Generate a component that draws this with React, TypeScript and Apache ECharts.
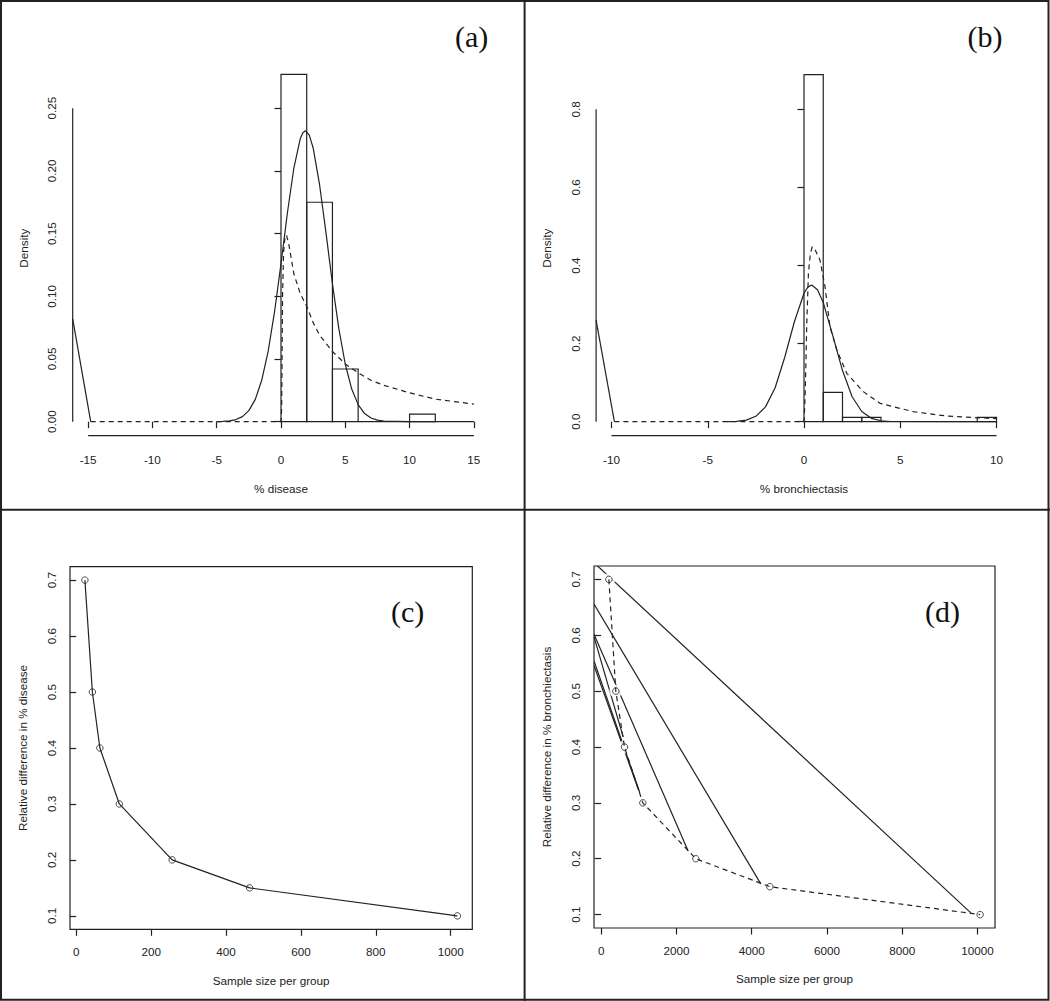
import React, { useEffect, useRef } from "react";
import * as echarts from "echarts";

// ---------- Panel (a): % disease ----------
const binEdgesA = [0, 2, 4, 6, 8, 10, 12];
const densA = [0.277, 0.175, 0.042, 0, 0, 0.006];
const xTicksA = [-15, -10, -5, 0, 5, 10, 15];
const yTicksA = [0, 0.05, 0.1, 0.15, 0.2, 0.25];
const normXA = [-5, -4.5, -4, -3.5, -3, -2.5, -2, -1.5, -1, -0.5, 0, 0.5, 1, 1.5, 1.7, 1.9, 2.2, 2.5, 3, 3.5, 4, 4.5, 5, 5.5, 6, 6.5, 7, 7.5, 8, 10, 15];
const normYA = [0, 0.0002, 0.0006, 0.0017, 0.004, 0.0088, 0.0178, 0.033, 0.056, 0.0877, 0.126, 0.1666, 0.2023, 0.2258, 0.2304, 0.232, 0.2285, 0.2183, 0.189, 0.1506, 0.11, 0.074, 0.0458, 0.026, 0.0136, 0.0065, 0.0029, 0.0012, 0.0004, 0, 0];
const lnXA = [-14.8, 0, 0.05, 0.08, 0.12, 0.2, 0.3, 0.42, 0.6, 1, 1.5, 2, 2.5, 3, 4, 5, 6, 7, 8, 10, 12, 15];
const lnYA = [0, 0, 0.01, 0.045, 0.1, 0.135, 0.146, 0.149, 0.142, 0.118, 0.102, 0.092, 0.079, 0.069, 0.056, 0.046, 0.039, 0.033, 0.029, 0.023, 0.018, 0.014];
const edgeXA = [-16.2, -14.8];
const edgeYA = [0.082, 0];

// ---------- Panel (b): % bronchiectasis ----------
const binEdgesB = [0, 1, 2, 3, 4, 5, 6, 7, 8, 9, 10];
const densB = [0.889, 0.075, 0.011, 0.011, 0, 0, 0, 0, 0, 0.011];
const xTicksB = [-10, -5, 0, 5, 10];
const yTicksB = [0, 0.2, 0.4, 0.6, 0.8];
const normXB = [-4, -3.5, -3, -2.5, -2, -1.5, -1, -0.5, 0, 0.2, 0.4, 0.7, 1, 1.5, 2, 2.5, 3, 3.5, 4, 4.5, 10];
const normYB = [0, 0.001, 0.004, 0.0138, 0.038, 0.087, 0.165, 0.256, 0.329, 0.3447, 0.35, 0.338, 0.305, 0.22, 0.131, 0.064, 0.026, 0.0087, 0.0024, 0.0005, 0];
const lnXB = [-9.85, 0, 0.03, 0.06, 0.1, 0.14, 0.23, 0.33, 0.43, 0.6, 0.83, 1.09, 1.35, 1.7, 2.22, 3.08, 3.95, 5.68, 7.4, 10];
const lnYB = [0, 0, 0.03, 0.07, 0.15, 0.243, 0.38, 0.43, 0.448, 0.438, 0.414, 0.346, 0.243, 0.184, 0.124, 0.077, 0.047, 0.0256, 0.0146, 0.0077];
const edgeXB = [-10.8, -9.85];
const edgeYB = [0.26, 0];

// ---------- Panel (c) ----------
const sampC = [23, 43, 63, 115, 256, 463, 1018];
const relC = [0.7, 0.5, 0.4, 0.3, 0.2, 0.15, 0.1];
const xTicksC = [0, 200, 400, 600, 800, 1000];
const yTicksCD = [0.1, 0.2, 0.3, 0.4, 0.5, 0.6, 0.7];

// ---------- Panel (d) ----------
const sampD = [205, 390, 621, 1108, 2516, 4483, 10072];
const relD = [0.7, 0.5, 0.4, 0.3, 0.2, 0.15, 0.1];
const xTicksD = [0, 2000, 4000, 6000, 8000, 10000];
// solid segments: [x0, y0, x1, y1]
const segD = [
  [-122, 0.7257, 9824, 0.103],
  [-189.7, 0.656, 4243, 0.155],
  [-189.7, 0.602, 2312, 0.214],
  [-189.7, 0.597, 585, 0.418],
  [-189.7, 0.554, 1028, 0.318],
  [-189.7, 0.546, 1000, 0.322],
];

// axis extents (R's 4% extension)
const rangeA = { x: [-16.2, 16.2], y: [-0.0111, 0.2879] };
const rangeB = { x: [-10.8, 10.8], y: [-0.0356, 0.9245] };
const rangeC = { x: [-16.8, 1057.8], y: [0.076, 0.724] };
const rangeD = { x: [-189.7, 10466.7], y: [0.076, 0.724] };

const INK = "#222";
const FONT = "'Liberation Sans', Arial, sans-serif";
const FS = 11.7;
const LW = 1.2;

const zip = (xs: number[], ys: number[]) => xs.map((x, i) => [x, ys[i]]);

function xAxisR(gridIndex: number, range: any, ticks: number[], name: string, nameGap: number, margin: number) {
  return {
    type: "value",
    gridIndex,
    min: range.x[0],
    max: range.x[1],
    position: "bottom",
    axisLine: { show: false },
    splitLine: { show: false },
    axisTick: { show: true, customValues: ticks, length: 6.5, lineStyle: { color: INK, width: LW } },
    axisLabel: { customValues: ticks, margin, color: INK, fontFamily: FONT, fontSize: FS, formatter: (v: number) => String(v) },
    name,
    nameLocation: "middle",
    nameGap,
    nameTextStyle: { color: INK, fontFamily: FONT, fontSize: FS },
  };
}

function yAxisR(gridIndex: number, range: any, ticks: number[], digits: number, name: string, nameGap: number, margin: number) {
  return {
    type: "value",
    gridIndex,
    min: range.y[0],
    max: range.y[1],
    position: "left",
    axisLine: { show: false },
    splitLine: { show: false },
    axisTick: { show: true, customValues: ticks, length: 6.5, lineStyle: { color: INK, width: LW } },
    axisLabel: {
      customValues: ticks,
      rotate: 90,
      margin,
      color: INK,
      fontFamily: FONT,
      fontSize: FS,
      formatter: (v: number) => v.toFixed(digits),
    },
    name,
    nameLocation: "middle",
    nameGap,
    nameTextStyle: { color: INK, fontFamily: FONT, fontSize: FS },
  };
}

const histRender = (params: any, api: any) => {
  const a = api.coord([api.value(0), 0]);
  const b = api.coord([api.value(1), api.value(2)]);
  return {
    type: "rect",
    shape: { x: a[0], y: b[1], width: b[0] - a[0], height: a[1] - b[1] },
    style: { fill: "none", stroke: INK, lineWidth: LW },
  };
};

const segRender = (params: any, api: any) => {
  const a = api.coord([api.value(0), api.value(1)]);
  const b = api.coord([api.value(2), api.value(3)]);
  return {
    type: "line",
    shape: { x1: a[0], y1: a[1], x2: b[0], y2: b[1] },
    style: { stroke: INK, lineWidth: LW },
  };
};

function lineSeries(idx: number, data: any[], dashed = false, clip = true) {
  return {
    type: "line",
    xAxisIndex: idx,
    yAxisIndex: idx,
    data,
    symbol: "none",
    silent: true,
    clip,
    lineStyle: { color: INK, width: LW, type: dashed ? [5, 4] : "solid", join: "round" },
  };
}

function histPanelSeries(idx: number, edges: number[], dens: number[], range: any, xt: number[], yt: number[],
  edgeX: number[], edgeY: number[], nX: number[], nY: number[], lX: number[], lY: number[]) {
  const hist = dens.map((d, i) => [edges[i], edges[i + 1], d]);
  return [
    { type: "custom", xAxisIndex: idx, yAxisIndex: idx, data: hist, encode: { x: [0, 1], y: 2 }, renderItem: histRender, silent: true, clip: false },
    lineSeries(idx, zip(edgeX, edgeY)),
    lineSeries(idx, zip(nX, nY)),
    lineSeries(idx, zip(lX, lY), true),
    lineSeries(idx, [[xt[0], range.y[0]], [xt[xt.length - 1], range.y[0]]], false, false),
    lineSeries(idx, [[range.x[0], yt[0]], [range.x[0], yt[yt.length - 1]]], false, false),
  ];
}

function pointSeries(idx: number, xs: number[], ys: number[], dashed: boolean) {
  const pts = zip(xs, ys);
  return {
    line: lineSeries(idx, pts, dashed),
    halo: {
      type: "scatter", xAxisIndex: idx, yAxisIndex: idx, data: pts, symbol: "circle", symbolSize: 13, silent: true,
      itemStyle: { color: "#fff", borderWidth: 0 },
    },
    circles: {
      type: "scatter", xAxisIndex: idx, yAxisIndex: idx, data: pts, symbol: "circle", symbolSize: 6.5, silent: true,
      itemStyle: { color: "#fff", borderColor: INK, borderWidth: 1 },
    },
  };
}

export default function App() {
  const ref = useRef<HTMLDivElement>(null);
  useEffect(() => {
    if (!ref.current) return;
    const chart = echarts.init(ref.current, undefined, { renderer: "svg" });
    const pc = pointSeries(2, sampC, relC, false);
    const pd = pointSeries(3, sampD, relD, true);
    const labelStyle = (text: string, x: number, y: number) => ({
      type: "text",
      x,
      y,
      style: { text, fontSize: 30, fontFamily: "'Liberation Serif', serif", fill: "#111", align: "center", verticalAlign: "middle" },
    });
    const option: any = {
      animation: false,
      backgroundColor: "#fff",
      grid: [
        { left: 72.7, top: 60.7, width: 416.6, height: 374.9, outerBoundsMode: "none" },
        { left: 596.1, top: 60.7, width: 415.8, height: 374.9, outerBoundsMode: "none" },
        { left: 70, top: 566.7, width: 402.3, height: 362.6, show: true, borderColor: INK, borderWidth: LW, outerBoundsMode: "none" },
        { left: 594, top: 566, width: 401, height: 362, show: true, borderColor: INK, borderWidth: LW, outerBoundsMode: "none" },
      ],
      xAxis: [
        xAxisR(0, rangeA, xTicksA, "% disease", 46.6, 17.5),
        xAxisR(1, rangeB, xTicksB, "% bronchiectasis", 46.6, 17.5),
        xAxisR(2, rangeC, xTicksC, "Sample size per group", 44.8, 16),
        xAxisR(3, rangeD, xTicksD, "Sample size per group", 44.5, 16),
      ],
      yAxis: [
        yAxisR(0, rangeA, yTicksA, 2, "Density", 43.5, 15),
        yAxisR(1, rangeB, yTicksB, 1, "Density", 43.5, 15),
        yAxisR(2, rangeC, yTicksCD, 1, "Relative difference in % disease", 41.5, 13),
        yAxisR(3, rangeD, yTicksCD, 1, "Relative difference in % bronchiectasis", 41.5, 13),
      ],
      series: [
        ...histPanelSeries(0, binEdgesA, densA, rangeA, xTicksA, yTicksA, edgeXA, edgeYA, normXA, normYA, lnXA, lnYA),
        ...histPanelSeries(1, binEdgesB, densB, rangeB, xTicksB, yTicksB, edgeXB, edgeYB, normXB, normYB, lnXB, lnYB),
        pc.line, pc.halo, pc.circles,
        pd.line, pd.halo,
        { type: "custom", xAxisIndex: 3, yAxisIndex: 3, data: segD, encode: { x: [0, 2], y: [1, 3] }, renderItem: segRender, silent: true, clip: true },
        pd.circles,
      ],
      graphic: [
        { type: "rect", shape: { x: 1, y: 1, width: 1047.5, height: 998.8 }, style: { fill: "none", stroke: INK, lineWidth: 2 }, silent: true },
        { type: "line", shape: { x1: 524.6, y1: 0, x2: 524.6, y2: 1001 }, style: { stroke: INK, lineWidth: 2 }, silent: true },
        { type: "line", shape: { x1: 0, y1: 509.8, x2: 1050, y2: 509.8 }, style: { stroke: INK, lineWidth: 2 }, silent: true },
        labelStyle("(a)", 471.7, 36),
        labelStyle("(b)", 985, 36),
        labelStyle("(c)", 407.7, 611),
        labelStyle("(d)", 942.5, 611),
      ],
    };
    chart.setOption(option);
    return () => chart.dispose();
  }, []);
  return <div ref={ref} style={{ position: "fixed", left: 0, top: 0, width: 1050, height: 1001 }} />;
}
